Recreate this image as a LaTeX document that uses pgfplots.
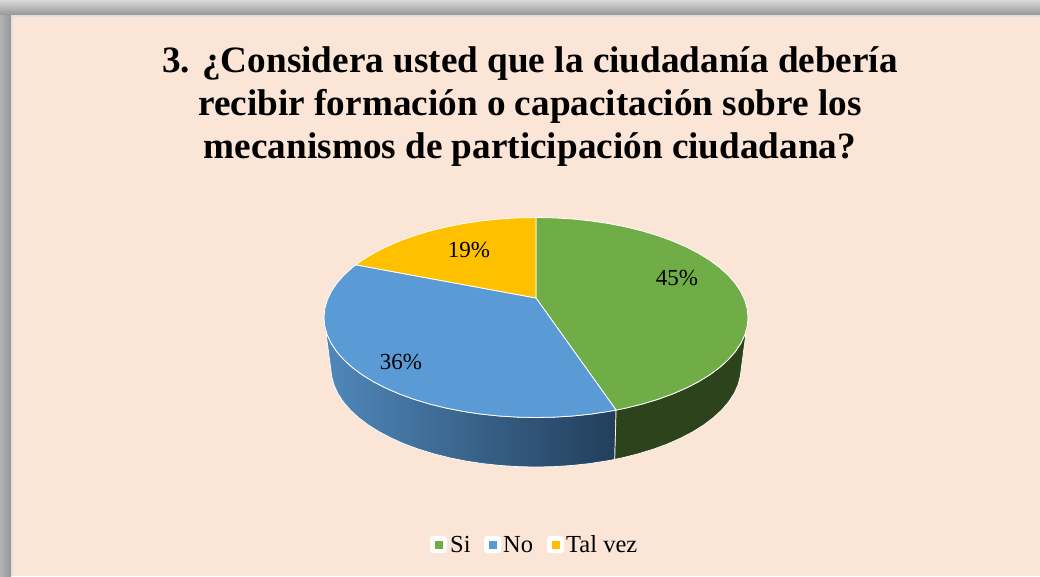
\documentclass[border=0pt]{standalone}
\usepackage{pgfplots}
\pgfplotsset{compat=1.18}
\usepackage{fontspec}
\setmainfont{Liberation Serif}
\definecolor{bgp}{HTML}{FBE5D6}
\definecolor{cgreen}{HTML}{70AD47}
\definecolor{cblue}{HTML}{5B9BD5}
\definecolor{cyellow}{HTML}{FFC000}
\definecolor{sgreen}{HTML}{2D431C}
\definecolor{sblueL}{HTML}{5088BA}
\definecolor{sblueR}{HTML}{223E5B}
\begin{document}
\begin{tikzpicture}[x=1pt,y=1pt]
\begin{axis}[
  scale only axis, width=1040pt, height=576pt,
  xmin=0, xmax=1040, ymin=0, ymax=576, y dir=reverse,
  hide axis, clip=true,
  declare function={
    tx(\s)=\s<-500 ? 536 : (\s<500 ? 536+212*cos(\s) : 536+205*cos(\s-1000));
    ty(\s)=\s<-500 ? 298 : (\s<500 ? 317.5+100*sin(\s) : 368+99*sin(\s-1000));
  },
  variable=\s,
]
% backdrop
\fill[top color=black!15, bottom color=black!41, draw=none] (axis cs:0,0) rectangle (axis cs:1040,15);
\fill[left color=black!30, right color=black!41, draw=none] (axis cs:0,15) rectangle (axis cs:11,576);
\fill[black!12, draw=none] (axis cs:11,15) rectangle (axis cs:1040,576);
\fill[bgp, draw=none] (axis cs:13,17) rectangle (axis cs:1040,576);
% sides of the pie
\addplot[draw=white, line width=0.7pt, left color=sblueL, right color=sblueR,
  samples at={67.8,75,80,...,170,173,1175,1170,...,1070,1067.4,67.8}] ({tx(\s)},{ty(\s)});
\addplot[draw=white, line width=0.7pt, fill=sgreen,
  samples at={7,10,15,...,65,67.8,1067.4,1065,1060,...,1010,1005,7}] ({tx(\s)},{ty(\s)});
% top faces: Si 45, No 36, Tal vez 19
\addplot[draw=white, line width=0.8pt, fill=cgreen,
  samples at={-999,-90,-85,...,65,67.8,-999}] ({tx(\s)},{ty(\s)});
\addplot[draw=white, line width=0.8pt, fill=cblue,
  samples at={-999,67.8,70,75,...,210,211.8,-999}] ({tx(\s)},{ty(\s)});
\addplot[draw=white, line width=0.8pt, fill=cyellow,
  samples at={-999,211.8,215,220,...,265,270,-999}] ({tx(\s)},{ty(\s)});
% data labels
\node[font=\fontsize{23}{23}\selectfont, anchor=center] at (axis cs:677,278) {45\%};
\node[font=\fontsize{23}{23}\selectfont, anchor=center] at (axis cs:401,362) {36\%};
\node[font=\fontsize{23}{23}\selectfont, anchor=center] at (axis cs:469,250) {19\%};
% title
\node[font=\fontsize{37.2}{37.2}\selectfont\bfseries, anchor=base] at (axis cs:530,72) {3. ¿Considera usted que la ciudadanía debería};
\node[font=\fontsize{37.2}{37.2}\selectfont\bfseries, anchor=base] at (axis cs:530,115) {recibir formación o capacitación sobre los};
\node[font=\fontsize{37.2}{37.2}\selectfont\bfseries, anchor=base] at (axis cs:530,158) {mecanismos de participación ciudadana?};
% legend
\fill[white, rounded corners=3pt, draw=none] (axis cs:430,536) rectangle (axis cs:447,553);
\fill[white, rounded corners=3pt, draw=none] (axis cs:484,536) rectangle (axis cs:501,553);
\fill[white, rounded corners=3pt, draw=none] (axis cs:547,536) rectangle (axis cs:564,553);
\addplot[only marks, mark=square*, mark size=3.5pt, color=cgreen] coordinates {(438.5,544.5)};
\addplot[only marks, mark=square*, mark size=3.5pt, color=cblue] coordinates {(492.5,544.5)};
\addplot[only marks, mark=square*, mark size=3.5pt, color=cyellow] coordinates {(555.5,544.5)};
\node[font=\fontsize{24.5}{24.5}\selectfont, anchor=base west, inner sep=0pt] at (axis cs:450,552) {Si};
\node[font=\fontsize{24.5}{24.5}\selectfont, anchor=base west, inner sep=0pt] at (axis cs:503,552) {No};
\node[font=\fontsize{24.5}{24.5}\selectfont, anchor=base west, inner sep=0pt] at (axis cs:566,552) {Tal vez};
\end{axis}
\end{tikzpicture}
\end{document}
